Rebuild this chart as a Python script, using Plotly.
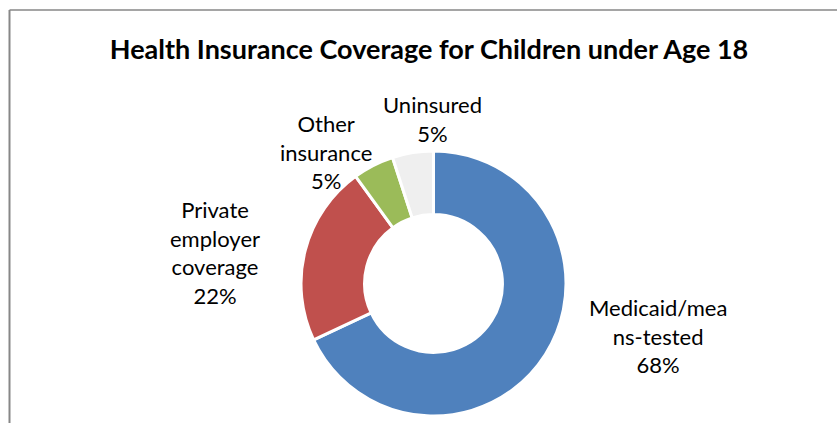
import plotly.graph_objects as go

# Coverage categories, in clockwise order starting at 12 o'clock
categories = ["Medicaid/means-tested", "Private employer coverage", "Other insurance", "Uninsured"]
shares = [68, 22, 5, 5]
label_lines = [["Medicaid/mea", "ns-tested"], ["Private", "employer", "coverage"], ["Other", "insurance"], ["Uninsured"]]
colors = ["#4F81BD", "#C0504D", "#9BBB59", "#EFEFEF"]

W, H = 837, 423
FONT = "Lato"

fig = go.Figure(go.Pie(
    labels=categories,
    values=shares,
    hole=0.52,
    sort=False,
    direction="clockwise",
    rotation=0,
    marker=dict(colors=colors, line=dict(color="white", width=3)),
    textinfo="none",
    hoverinfo="label+percent",
    showlegend=False,
    domain=dict(x=[301 / W, 566 / W], y=[(H - 416) / H, (H - 151) / H]),
))

# data label anchor points (pixel centers of each label block)
label_pos = [(658, 336), (215, 252), (326, 152), (432, 119)]
for lines, v, (px, py) in zip(label_lines, shares, label_pos):
    fig.add_annotation(
        x=px / W, y=1 - py / H, xref="paper", yref="paper",
        text="<br>".join(lines + [f"{v}%"]),
        showarrow=False, xanchor="center", yanchor="middle",
        font=dict(family=FONT, size=22, color="#000000"),
    )

# chart frame
fig.add_shape(type="line", xref="paper", yref="paper",
              x0=9.5 / W, x1=1, y0=1 - 10 / H, y1=1 - 10 / H,
              line=dict(color="#878787", width=1.5))
fig.add_shape(type="line", xref="paper", yref="paper",
              x0=9.5 / W, x1=9.5 / W, y0=0, y1=1 - 10 / H,
              line=dict(color="#878787", width=2))

fig.update_layout(
    width=W, height=H,
    margin=dict(l=0, r=0, t=0, b=0),
    paper_bgcolor="white", plot_bgcolor="white",
    title=dict(
        text="<b>Health Insurance Coverage for Children under Age 18</b>",
        x=429 / W, xanchor="center", y=1 - 50 / H, yanchor="middle",
        font=dict(family=FONT, size=27, color="#000000"),
    ),
)

fig.write_html("out.html")
